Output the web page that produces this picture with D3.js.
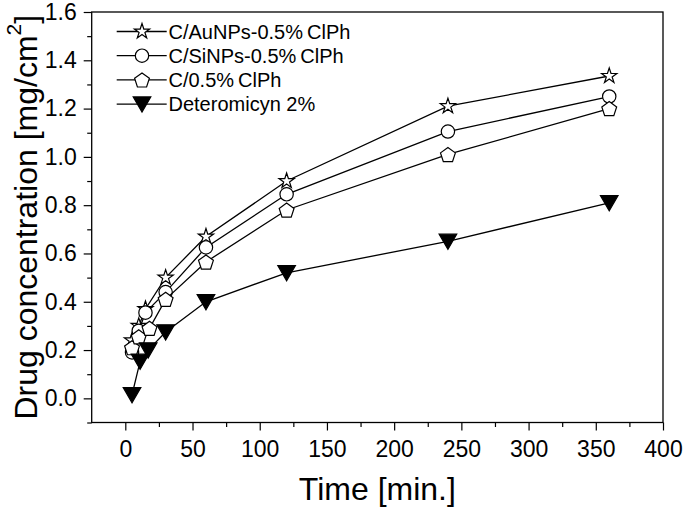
<!DOCTYPE html>
<html>
<head>
<meta charset="utf-8">
<script src="https://cdn.jsdelivr.net/npm/d3@7"></script>
<style>
  html, body { margin: 0; padding: 0; background: #fff; }
  svg { display: block; }
</style>
</head>
<body>
<svg id="chart" width="685" height="510"></svg>
<script>
// ---- data ----
const seriesNames = ["C/AuNPs-0.5%\u2009ClPh", "C/SiNPs-0.5%\u2009ClPh", "C/0.5%\u2009ClPh", "Deteromicyn 2%"];
const timesAu = [5, 10, 15, 30, 60, 120, 240, 360];
const timesSi = [5, 10, 15, 30, 60, 120, 240, 360];
const timesPure = [5, 10, 18, 30, 60, 120, 240, 360];
const timesDeter = [5, 11, 17, 30, 60, 120, 240, 360];
const valuesAu = [0.24, 0.30, 0.37, 0.50, 0.67, 0.90, 1.21, 1.335];
const valuesSi = [0.19, 0.28, 0.355, 0.44, 0.625, 0.845, 1.105, 1.25];
const valuesPure = [0.21, 0.255, 0.29, 0.41, 0.565, 0.78, 1.01, 1.20];
const valuesDeter = [0.015, 0.153, 0.20, 0.275, 0.40, 0.52, 0.65, 0.81];
const xMajorTicks = [0, 50, 100, 150, 200, 250, 300, 350, 400];
const xMinorTicks = [25, 75, 125, 175, 225, 275, 325, 375];
const yMajorTicks = [0.0, 0.2, 0.4, 0.6, 0.8, 1.0, 1.2, 1.4, 1.6];
const yMinorTicks = [-0.1, 0.1, 0.3, 0.5, 0.7, 0.9, 1.1, 1.3, 1.5];

const series = [
  {name: seriesNames[0], t: timesAu, v: valuesAu, shape: "star"},
  {name: seriesNames[1], t: timesSi, v: valuesSi, shape: "circle"},
  {name: seriesNames[2], t: timesPure, v: valuesPure, shape: "pentagon"},
  {name: seriesNames[3], t: timesDeter, v: valuesDeter, shape: "triangle"}
];

// ---- layout ----
const FONT = "'Liberation Sans', Arial, sans-serif";
const pLeft = 91.7, pRight = 663, pTop = 12, pBottom = 422.5;
const x = d3.scaleLinear().domain([-25, 400]).range([pLeft, pRight]);
const y = d3.scaleLinear().domain([-0.1, 1.6]).range([pBottom, pTop]);

const svg = d3.select("#chart");

// marker path generators
function markerPath(shape) {
  if (shape === "star") return d3.symbol().type(d3.symbolStar).size(72)();
  if (shape === "circle") return d3.symbol().type(d3.symbolCircle).size(140)();
  if (shape === "pentagon") {
    const R = 7.8, pts = [];
    for (let i = 0; i < 5; i++) {
      const a = -Math.PI / 2 + i * 2 * Math.PI / 5;
      pts.push([R * Math.cos(a), R * Math.sin(a) + 0.8]);
    }
    return "M" + pts.map(p => p.join(",")).join("L") + "Z";
  }
  // downward triangle
  return "M-8.8,-7.2L8.8,-7.2L0,8Z";
}

// ---- axes ----
const gx = svg.append("g").attr("transform", `translate(0,${pBottom})`)
  .call(d3.axisBottom(x).tickValues(xMajorTicks).tickSize(8).tickPadding(10).tickFormat(d3.format("d")));
const gxm = svg.append("g").attr("transform", `translate(0,${pBottom})`)
  .call(d3.axisBottom(x).tickValues(xMinorTicks).tickSize(4.5).tickFormat(""));
const gy = svg.append("g").attr("transform", `translate(${pLeft},0)`)
  .call(d3.axisLeft(y).tickValues(yMajorTicks).tickSize(8).tickPadding(7).tickFormat(d3.format(".1f")));
const gym = svg.append("g").attr("transform", `translate(${pLeft},0)`)
  .call(d3.axisLeft(y).tickValues(yMinorTicks).tickSize(4.5).tickFormat(""));

[gx, gxm, gy, gym].forEach(g => {
  g.select(".domain").remove();
  g.selectAll(".tick line").attr("stroke", "#000").attr("stroke-width", 1.2);
  g.selectAll(".tick text").attr("fill", "#000").attr("font-family", FONT).attr("font-size", 23);
});

// frame
svg.append("rect")
  .attr("x", pLeft).attr("y", pTop)
  .attr("width", pRight - pLeft).attr("height", pBottom - pTop)
  .attr("fill", "none").attr("stroke", "#000").attr("stroke-width", 1.3);

// ---- series ----
const line = d3.line().x(d => x(d[0])).y(d => y(d[1]));
series.forEach(s => {
  const pts = s.t.map((t, i) => [t, s.v[i]]);
  const g = svg.append("g");
  g.append("path").attr("d", line(pts))
    .attr("fill", "none").attr("stroke", "#000").attr("stroke-width", 1.3);
  g.selectAll("path.m").data(pts).enter().append("path")
    .attr("class", "m")
    .attr("d", markerPath(s.shape))
    .attr("transform", d => `translate(${x(d[0])},${y(d[1])})`)
    .attr("fill", s.shape === "triangle" ? "#000" : "#fff")
    .attr("stroke", "#000").attr("stroke-width", 1.2);
});

// ---- legend ----
const legend = svg.append("g");
series.forEach((s, i) => {
  const ly = 31.5 + i * 24.2;
  legend.append("line").attr("x1", 116.7).attr("x2", 166.7).attr("y1", ly).attr("y2", ly)
    .attr("stroke", "#000").attr("stroke-width", 1.3);
  legend.append("path").attr("d", markerPath(s.shape))
    .attr("transform", `translate(142,${ly})`)
    .attr("fill", s.shape === "triangle" ? "#000" : "#fff")
    .attr("stroke", "#000").attr("stroke-width", 1.2);
  legend.append("text").attr("x", 168.5).attr("y", ly).attr("dy", "0.36em")
    .attr("font-family", FONT).attr("font-size", 20).attr("fill", "#000")
    .text(s.name);
});

// ---- axis titles ----
svg.append("text")
  .attr("x", (pLeft + pRight) / 2).attr("y", 500)
  .attr("text-anchor", "middle")
  .attr("font-family", FONT).attr("font-size", 32).attr("fill", "#000")
  .text("Time [min.]");

const yt = svg.append("text")
  .attr("transform", `translate(37,${(pTop + pBottom) / 2}) rotate(-90)`)
  .attr("text-anchor", "middle")
  .attr("font-family", FONT).attr("font-size", 32).attr("fill", "#000");
yt.append("tspan").text("Drug concentration [mg/cm");
yt.append("tspan").attr("font-size", 21).attr("dy", "-0.75em").text("2");
yt.append("tspan").attr("dy", "0.5em").text("]");
</script>
</body>
</html>
